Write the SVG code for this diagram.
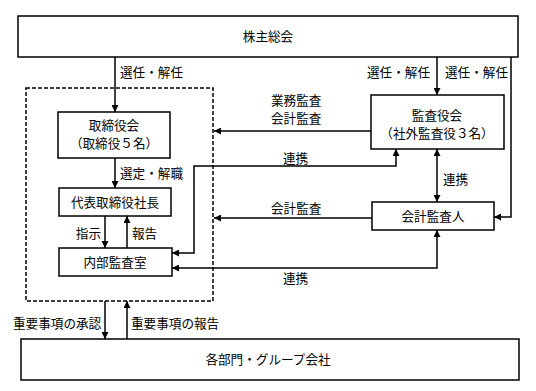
<svg xmlns="http://www.w3.org/2000/svg" width="536" height="391" viewBox="0 0 536 391">
<defs>
<marker id="ah" viewBox="0 0 10 10" refX="10" refY="5" markerWidth="7" markerHeight="7" markerUnits="userSpaceOnUse" orient="auto-start-reverse">
<path d="M0,0 L10,5 L0,10 Z" fill="#000"/>
</marker>
<style>
.box{fill:#fff;stroke:#000;stroke-width:1.5}
.dash{fill:none;stroke:#000;stroke-width:1.5;stroke-dasharray:4 2}
.c{fill:none;stroke:#000;stroke-width:1.5}
text{font-family:"Noto Sans CJK JP","Noto Sans",sans-serif;font-size:12.6px;fill:#000}
.m{text-anchor:middle}
.e{text-anchor:end}
</style>
</defs>
<rect width="536" height="391" fill="#fff"/>
<rect class="dash" x="26" y="88" width="187" height="213"/>
<g id="connectors">
<line class="c" x1="115" y1="57" x2="115" y2="112" marker-end="url(#ah)"/>
<line class="c" x1="115" y1="158" x2="115" y2="188" marker-end="url(#ah)"/>
<line class="c" x1="105" y1="216" x2="105" y2="248" marker-end="url(#ah)"/>
<line class="c" x1="127" y1="248" x2="127" y2="216" marker-end="url(#ah)"/>
<line class="c" x1="105" y1="301" x2="105" y2="339" marker-end="url(#ah)"/>
<line class="c" x1="127" y1="339" x2="127" y2="301" marker-end="url(#ah)"/>
<line class="c" x1="437" y1="57" x2="437" y2="95" marker-end="url(#ah)"/>
<path class="c" d="M511,57 V217 H494" marker-end="url(#ah)"/>
<line class="c" x1="371" y1="131" x2="214" y2="131" marker-end="url(#ah)"/>
<line class="c" x1="372" y1="218" x2="214" y2="218" marker-end="url(#ah)"/>
<path class="c" d="M172,253 H194 V166 H396 V149" marker-start="url(#ah)" marker-end="url(#ah)"/>
<path class="c" d="M172,268 H437 V230" marker-start="url(#ah)" marker-end="url(#ah)"/>
<line class="c" x1="437" y1="149" x2="437" y2="202" marker-start="url(#ah)" marker-end="url(#ah)"/>
<text x="120" y="77">選任・解任</text>
<text x="120" y="178">選定・解職</text>
<text class="e" x="101" y="238">指示</text>
<text x="132" y="238">報告</text>
<text x="13" y="328">重要事項の承認</text>
<text x="131" y="328">重要事項の報告</text>
<text x="367" y="77">選任・解任</text>
<text x="445" y="77">選任・解任</text>
<text x="271" y="105">業務監査</text>
<text x="271" y="123">会計監査</text>
<text x="283" y="163">連携</text>
<text x="443" y="184">連携</text>
<text x="271" y="213">会計監査</text>
<text x="283" y="283">連携</text>
</g>
<g id="shareholders">
<rect class="box" x="18" y="16" width="500" height="41"/>
<text class="m" x="268" y="41">株主総会</text>
</g>
<g id="board">
<rect class="box" x="58" y="112" width="112" height="46"/>
<text class="m" x="114" y="130">取締役会</text>
<text class="m" x="114" y="148">（取締役５名）</text>
</g>
<g id="president">
<rect class="box" x="59" y="188" width="112" height="28"/>
<text class="m" x="115" y="207">代表取締役社長</text>
</g>
<g id="internal-audit">
<rect class="box" x="59" y="248" width="113" height="28"/>
<text class="m" x="115" y="267">内部監査室</text>
</g>
<g id="audit-board">
<rect class="box" x="371" y="95" width="133" height="54"/>
<text class="m" x="437" y="120">監査役会</text>
<text class="m" x="437" y="138">（社外監査役３名）</text>
</g>
<g id="accounting-auditor">
<rect class="box" x="372" y="202" width="122" height="28"/>
<text class="m" x="433" y="221">会計監査人</text>
</g>
<g id="departments">
<rect class="box" x="21" y="339" width="498" height="41"/>
<text class="m" x="268" y="364">各部門・グループ会社</text>
</g>
</svg>
